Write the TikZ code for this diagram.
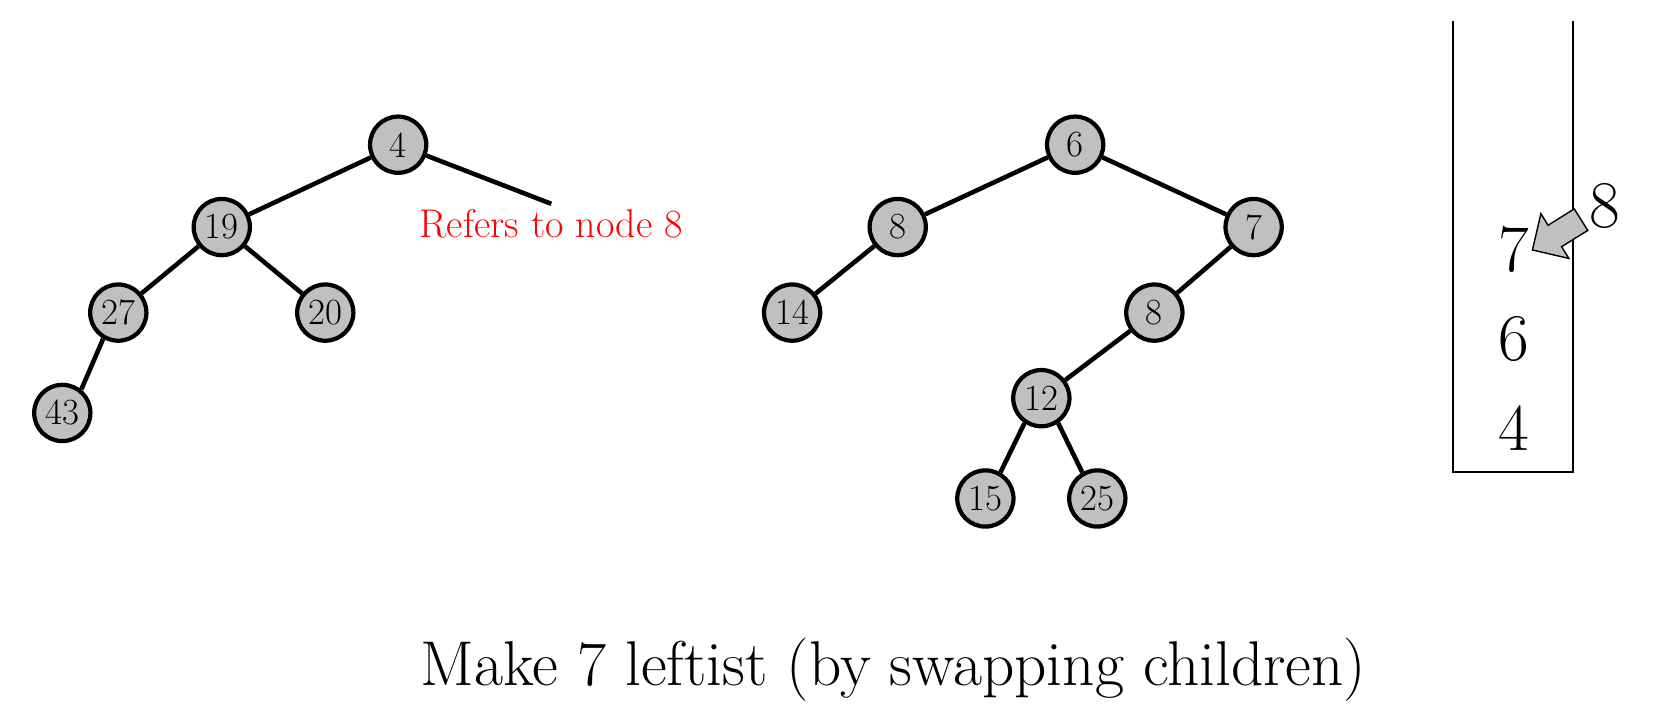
\documentclass[tikz,border=0pt]{standalone}
\usepackage{fontspec}
\usepackage{tikz}
\definecolor{heapgray}{RGB}{192,192,192}
\tikzset{
  heapnode/.style={circle, draw, fill=heapgray, line width=2.4pt, minimum size=32pt,
    inner sep=0pt, font=\fontsize{21}{21}\selectfont},
  link/.style={line width=2.6pt},
  stacknum/.style={font=\fontsize{38}{38}\selectfont}
}
\begin{document}
\begin{tikzpicture}[x=0.02112cm, y=-0.02112cm]
      \useasboundingbox (0, 0) rectangle (1568, 683);

      \node[heapnode] (l4) at (377, 137) {4};
      \node[heapnode] (l19) at (210, 215) {19};
      \node[heapnode] (l27) at (112, 296) {27};
      \node[heapnode] (l20) at (308, 296) {20};
      \node[heapnode] (l43) at (59, 391) {43};
      \coordinate (l4r) at (522, 193);
      \draw[link] (l4) -- (l19);
      \draw[link] (l4) -- (l4r);
      \draw[link] (l19) -- (l27);
      \draw[link] (l19) -- (l20);
      \draw[link] (l27.240) -- (l43.51);
      \node[text=red, anchor=base, font=\fontsize{22.8}{23}\selectfont] (note) at (522, 224.6) {Refers to node 8};

      \node[heapnode] (m6) at (1018, 137) {6};
      \node[heapnode] (m8) at (850, 215) {8};
      \node[heapnode] (m7) at (1187, 215) {7};
      \node[heapnode] (m14) at (750, 296) {14};
      \node[heapnode] (m8b) at (1093, 296) {8};
      \node[heapnode] (m12) at (986, 377) {12};
      \node[heapnode] (m15) at (933, 472) {15};
      \node[heapnode] (m25) at (1039, 472) {25};
      \draw[link] (m6) -- (m8);
      \draw[link] (m6) -- (m7);
      \draw[link] (m8) -- (m14);
      \draw[link] (m7) -- (m8b);
      \draw[link] (m8b) -- (m12);
      \draw[link] (m12.236) -- (m15.60);
      \draw[link] (m12.304) -- (m25.120);

      \coordinate (stl) at (1376, 20);
      \coordinate (sbl) at (1376, 446.5);
      \coordinate (sbr) at (1490, 446.5);
      \coordinate (str) at (1489, 20);
      \draw[line width=1.1pt] (stl) -- (sbl) -- (sbr);
      \draw[line width=1.1pt] (str) -- (1489, 446.5);
      \node[stacknum] (s7) at (1433, 236) {7};
      \node[stacknum] (s6) at (1433, 321) {6};
      \node[stacknum] (s4) at (1433, 405) {4};
      \node[stacknum] (in8) at (1520, 195) {8};
      \draw[fill=heapgray, line width=0.8pt] (1451, 236.7) -- (1459, 202.3) -- (1465.8, 213.3)
        -- (1490.6, 197.8) -- (1503.4, 218.2) -- (1478.6, 233.6) -- (1485.5, 244.7) -- cycle;

      \node[anchor=base, font=\fontsize{36}{36}\selectfont] (title) at (846, 648.6) {Make 7 leftist (by swapping children)};
\end{tikzpicture}
\end{document}
